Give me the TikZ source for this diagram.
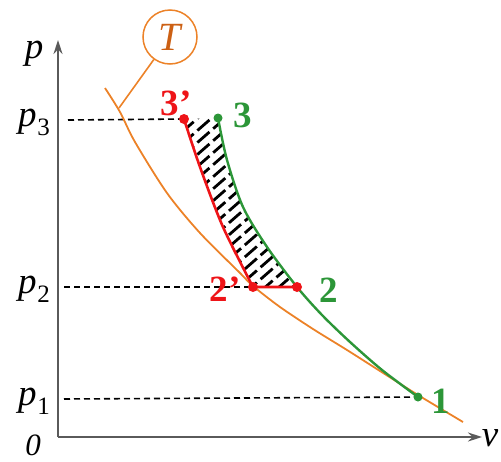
\documentclass[tikz,border=0pt]{standalone}
\usepackage{fontspec}
\setmainfont{Liberation Serif}
\newfontfamily\tms{Liberation Serif}
\usetikzlibrary{arrows.meta}
\definecolor{cOr}{RGB}{236,130,40}
\definecolor{cT}{RGB}{204,96,20}
\definecolor{cRd}{RGB}{238,20,24}
\definecolor{cGr}{RGB}{44,150,56}
\definecolor{cAx}{RGB}{90,90,90}
\tikzset{
  axisline/.style={draw=cAx,line width=1.8pt,-{Stealth[length=14pt,width=9pt,fill=black]}},
  guide/.style={draw=black,line width=1.6pt,dash pattern=on 6pt off 4pt},
  dotg/.style={circle,fill=cGr,inner sep=0pt,minimum size=9pt},
  dotr/.style={circle,fill=cRd,inner sep=0pt,minimum size=10pt},
  lblr/.style={text=cRd,inner sep=0pt,font=\tms\fontsize{37}{37}\selectfont\bfseries},
  lblg/.style={text=cGr,inner sep=0pt,font=\tms\fontsize{37}{37}\selectfont\bfseries},
  plbl/.style={inner sep=0pt,font=\tms\fontsize{37}{37}\selectfont\itshape},
}
\newcommand{\plab}[1]{p\kern1pt\raisebox{-0.25em}{\upshape\fontsize{25}{25}\selectfont #1}}
\begin{document}
\begin{tikzpicture}[x=1pt,y=-1pt]
\useasboundingbox (0,0) rectangle (501,461);
% axes
\coordinate (O) at (58,437);
\coordinate (ytop) at (58,40);
\coordinate (xend) at (482,437);
\draw[axisline] (O) -- (ytop);
\draw[axisline] (O) -- (xend);
\node[plbl,anchor=base] (plab) at (34,58) {p};
\node[plbl,anchor=base] (vlab) at (490,446) {v};
\node[plbl,anchor=base,font=\tms\fontsize{31}{31}\selectfont\itshape] (zero) at (33,455) {0};
% points
\coordinate (P3p) at (184,119);
\coordinate (P3) at (218,118);
\coordinate (P2p) at (253,287);
\coordinate (P2) at (297,287);
\coordinate (P1) at (418,397);
% p labels
\node[plbl,anchor=base] (p3) at (34,126) {\plab{3}};
\node[plbl,anchor=base] (p2) at (34,293) {\plab{2}};
\node[plbl,anchor=base] (p1) at (34,405) {\plab{1}};
\coordinate (g3) at (68,120);
\coordinate (g2) at (64,287);
\coordinate (g1) at (64,399);
\draw[guide] (g3) -- (P3p);
\draw[guide] (g2) -- (P2p);
\draw[guide] (g1) -- (P1);
% hatch
\begin{scope}
\clip plot[smooth] coordinates {(184,119) (200,167) (223,227) (253,287)} -- (297,287)
  -- plot[smooth] coordinates {(297,287) (267,247) (243,207) (227,160) (218,118)} -- cycle;
\foreach \i in {0,...,26}{
  \draw[black,line width=2.8pt,dash pattern=on 16pt off 5pt] (150,100+12*\i) -- ++(160,-140);
}
\end{scope}
% isotherm T
\draw[cOr,line width=1.8pt] plot[smooth] coordinates {(105,88) (120,112) (135,142) (167,193) (200,233) (240,273) (253,286) (280,307) (313,329) (347,350) (380,371) (418,395) (463,422)};
\node[circle,draw=cOr,line width=1.5pt,minimum size=54pt,inner sep=0pt,text=cT,font=\tms\fontsize{40}{40}\selectfont\itshape] (T) at (170,37) {T};
\coordinate (Tfoot) at (119,108);
\draw[cOr,line width=1.6pt] (T) -- (Tfoot);
% green curve
\draw[cGr,line width=2.4pt] plot[smooth] coordinates {(218,118) (227,160) (243,207) (267,247) (297,287) (322,315) (350,342) (382,370) (418,397)};
% red curve
\draw[cRd,line width=2.6pt] plot[smooth] coordinates {(184,119) (200,167) (223,227) (253,287)} -- (297,287);
% dots
\node[dotr] (d3p) at (P3p) {};
\node[dotg] (d3) at (P3) {};
\node[dotr] (d2p) at (P2p) {};
\node[dotr] (d2) at (P2) {};
\node[dotg] (d1) at (P1) {};
% labels
\node[lblr] (l3p) at (176,103) {3’};
\node[lblg] (l3) at (243,115) {3};
\node[lblr] (l2p) at (225,289) {2’};
\node[lblg] (l2) at (329,290) {2};
\node[lblg] (l1) at (441,401) {1};
\end{tikzpicture}
\end{document}
